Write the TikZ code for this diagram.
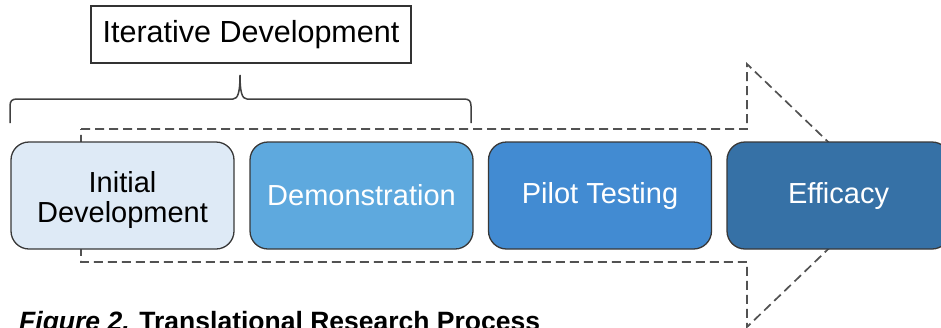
\documentclass[tikz,border=0pt]{standalone}
\usepackage{fontspec}
\setmainfont{Liberation Sans}
\begin{document}
\begin{tikzpicture}[x=1pt,y=-1pt,
  stage/.style={draw=black!78, line width=1.3pt, rounded corners=18pt,
    minimum width=223pt, minimum height=107pt, inner sep=0pt, align=center,
    font=\fontsize{29}{30}\selectfont},
  labelbox/.style={draw=black!80, line width=1.3pt, minimum width=320pt,
    minimum height=57pt, inner sep=0pt, font=\fontsize{30.5}{34}\selectfont},
  dashline/.style={draw=black!68, line width=1.7pt, dash pattern=on 9pt off 5pt},
  bracestyle/.style={draw=black!75, line width=1.5pt}
]
\definecolor{stageA}{RGB}{222,234,246}
\definecolor{stageB}{RGB}{94,169,222}
\definecolor{stageC}{RGB}{66,139,210}
\definecolor{stageD}{RGB}{54,113,166}
\clip (0,0) rectangle (941,327);

% dashed arrow outline running behind the stages
\draw[dashline, line join=miter] (81,129) -- (747,129) -- (747,64) -- (884,195.5)
  -- (747,327) -- (747,262) -- (81,262) -- cycle;

% brace grouping the first two stages
\draw[bracestyle] (10,123) -- (10,106) .. controls (10,101) and (12,99) .. (17,99)
  -- (233,99) .. controls (238,99) and (240,92) .. (240,75)
  .. controls (240,92) and (242,99) .. (247,99)
  -- (464,99) .. controls (469,99) and (471,101) .. (471,106) -- (471,123);

\node[labelbox] (iter) at (251,34.5) {Iterative Development};

% stages
\node[stage, fill=stageA, text=black] (initial) at (122.5,195.5) {};
\node[align=center, font=\fontsize{29}{30}\selectfont, inner sep=0pt, yshift=-4pt]
  (initialtext) at (initial.center) {Initial\\Development};
\node[stage, fill=stageB, text=white] (demo) at (361.5,195.5) {Demonstration};
\node[stage, fill=stageC, text=white] (pilot) at (600,195.5) {Pilot Testing};
\node[stage, fill=stageD, text=white] (efficacy) at (838.5,195.5) {Efficacy};

% caption
\node[anchor=base west, inner sep=0pt, font=\fontsize{26.5}{30}\selectfont\bfseries]
  (caption) at (19,330) {\textit{Figure 2.} Translational Research Process};
\end{tikzpicture}
\end{document}
